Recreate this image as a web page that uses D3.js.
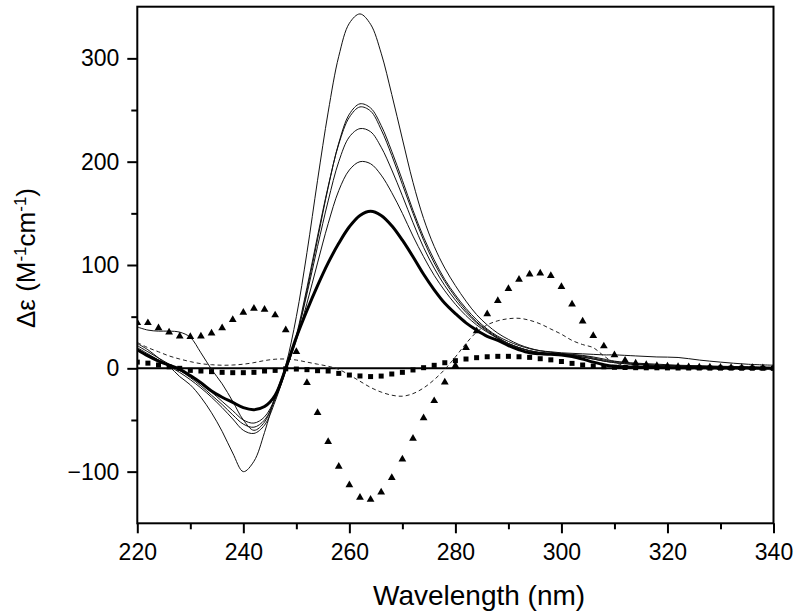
<!DOCTYPE html>
<html>
<head>
<meta charset="utf-8">
<script src="https://cdn.jsdelivr.net/npm/d3@7"></script>
<style>
  html, body { margin: 0; padding: 0; background: #fff; }
  svg { display: block; }
  text { font-family: "Liberation Sans", Arial, Helvetica, sans-serif; }
</style>
</head>
<body>
<svg id="chart" width="800" height="616"></svg>
<script>
// ---------- data ----------
const lineWl = [220,222,224,226,228,230,232,234,236,238,240,242,244,246,248,250,252,254,256,258,260,262,264,266,268,270,272,274,276,278,280,282,284,286,288,290,292,294,296,298,300,302,304,306,308,310,314,318,322,326,330,335,340];

const thick = [18,12,7,3,-1,-7,-14,-22,-28,-33,-38,-40,-37,-26,0,30,56,80,102,121,137,148,152,148,138,124,108,91,76,63,53,44,37,31,27,22,18,15,14,13.5,13,11.5,9,6,3.5,2,1,0.7,0.5,0.5,0.3,0.2,0];

const thinA = [24,18,10,2,-8,-16,-28,-43,-61,-82,-100,-90,-62,-27,3,50,112,182,248,302,334,343,333,305,265,222,180,145,118,97,80,65,52,42,34,28,23,19.5,17,15.5,14.5,13.5,12.5,11,9,7,4.5,3,2.5,2,1.5,1,0.5];

const thinB = [40,37,36,36,35,30,15,-1,-15,-32,-50,-60,-52,-28,-1,30,75,125,175,218,246,256,252,235,210,182,153,127,105,86,71,58,47,38,31,26,22,19,17,16,15,14.5,14,13.5,13,13,12,11,10.5,8,6,4,3];

const thinC = [22,16,10,4,-2,-9,-17,-26,-35,-45,-54,-57,-50,-30,-2,32,78,128,176,217,243,253,249,231,206,178,150,124,102,84,69,56,45,37,30,24,20,17,15,14,13.5,12.5,11,9,7,5.5,3.5,2.5,2,1.5,1,0.7,0.5];

const thinD = [20,14,8,2,-4,-11,-19,-28,-38,-49,-60,-63,-55,-32,-2,30,72,118,162,200,224,232,229,214,192,167,141,117,97,80,66,54,44,36,29,24,20,17,15,14,13.5,12.5,11,9,7,5.5,4,3,2.5,2,1.5,1,0.5];

const thinE = [18,13,8,3,-2,-8,-15,-23,-32,-41,-50,-53,-47,-29,-2,27,63,102,140,172,192,200,198,187,170,150,128,108,90,75,62,51,42,35,29,24,20,17,15.5,14.5,14,13,12,10,8,6.5,5,4,3,2.5,2,1.5,1];

const dashed = [25,20,16,12,9,6.5,4.5,3.5,3,3.2,4,5.5,7.5,8.8,9,8,6,4,2,-1,-6.5,-12.5,-18.5,-23,-26,-27,-24.5,-19,-11,-1,11,24,35,42,46,48,48.4,46.5,43,38,33,27,23,20,12,5.5,1.5,1,0.7,0.5,0.4,0.3,0.2];

const markerWl = [220,222,224,226,228,230,232,234,236,238,240,242,244,246,248,250,252,254,256,258,260,262,264,266,268,270,272,274,276,278,280,282,284,286,288,290,292,294,296,298,300,302,304,306,308,310,312,314,316,318,320,322,324,326,328,330,332,334,336,338,340];

const triangles = [44,44,39,35,31,30.5,31,34,39,47,54,58,57,51.5,37,16,-14,-43,-71,-95,-113,-125,-127,-120,-106,-88,-68,-48,-31.5,-13.5,2.5,20,36,52.5,65.5,77,86,91,92,89.5,79,62,45.5,31.5,21.5,13,7.7,5,3.5,2.5,2,1.5,1.2,1,1,0.8,0.6,0.5,0.5,0.4,0.3];

const squares = [6,5,3.2,1.5,0,-2,-2.6,-3.2,-3.9,-4.2,-4.2,-3.9,-2.6,-2,-0.5,-0.7,-1.3,-2.3,-2.6,-4.9,-6.5,-7.4,-8,-7.5,-5.5,-3.9,-1.6,0.6,2.9,5.4,7.4,9,10.3,11.2,11.6,11.6,11.2,10.6,9.3,8.2,6.6,4.8,3.2,2.2,1.5,1,0.8,0.6,0.5,0.5,0.4,0.3,0.3,0.3,0.2,0.2,0.2,0.1,0.1,0.1,0];

const xMajor = [220,240,260,280,300,320,340];
const xMinor = [230,250,270,290,310,330];
const yMajor = [-100,0,100,200,300];
const yMinor = [-50,50,150,250];

// ---------- layout ----------
const svg = d3.select("#chart");
const L = 137.3, R = 773.5, T = 6.7, B = 523.3;
const x = d3.scaleLinear().domain([220,340]).range([L, R]);
const y = d3.scaleLinear().domain([-150,350]).range([B, T]);

// clip
svg.append("clipPath").attr("id","clip").append("rect")
  .attr("x", L).attr("y", T).attr("width", R-L).attr("height", B-T);
const plot = svg.append("g").attr("clip-path","url(#clip)");

// zero line
plot.append("line")
  .attr("x1", x(220)).attr("x2", x(340)).attr("y1", y(0)).attr("y2", y(0))
  .attr("stroke","#000").attr("stroke-width",2);

const line = (vals) => d3.line()
  .x((d,i) => x(lineWl[i])).y(d => y(d))
  .curve(d3.curveCatmullRom.alpha(0.5))(vals);

// thin lines
[thinA, thinB, thinC, thinD, thinE].forEach(s => {
  plot.append("path").attr("d", line(s))
    .attr("fill","none").attr("stroke","#111").attr("stroke-width",1);
});
// dashed
plot.append("path").attr("d", line(dashed))
  .attr("fill","none").attr("stroke","#222").attr("stroke-width",1)
  .attr("stroke-dasharray","4,3");
// thick
plot.append("path").attr("d", line(thick))
  .attr("fill","none").attr("stroke","#000").attr("stroke-width",3);

// squares
plot.selectAll(".sq").data(squares).enter().append("rect")
  .attr("x", (d,i) => x(markerWl[i]) - 2.5)
  .attr("y", d => y(d) - 2.5)
  .attr("width",5).attr("height",5).attr("fill","#000");

// triangles
const tri = d3.symbol().type(d3.symbolTriangle).size(26);
plot.selectAll(".tri").data(triangles).enter().append("path")
  .attr("d", tri)
  .attr("transform", (d,i) => `translate(${x(markerWl[i])},${y(d)})`)
  .attr("fill","#000");

// axes
const fs = 23;
const gx = svg.append("g").attr("transform", `translate(0,${B})`)
  .call(d3.axisBottom(x).tickValues(xMajor).tickSize(10).tickPadding(10).tickFormat(d3.format("d")));
const gxm = svg.append("g").attr("transform", `translate(0,${B})`)
  .call(d3.axisBottom(x).tickValues(xMinor).tickSize(6).tickFormat(""));
const gy = svg.append("g").attr("transform", `translate(${L},0)`)
  .call(d3.axisLeft(y).tickValues(yMajor).tickSize(10).tickPadding(8).tickFormat(d3.format("d")));
const gym = svg.append("g").attr("transform", `translate(${L},0)`)
  .call(d3.axisLeft(y).tickValues(yMinor).tickSize(6).tickFormat(""));
[gx,gxm,gy,gym].forEach(g => {
  g.select(".domain").remove();
  g.selectAll("line").attr("stroke","#000").attr("stroke-width",2);
  g.selectAll("text").attr("fill","#000").style("font-size", fs+"px")
    .style("font-family",'"Liberation Sans", Arial, sans-serif');
});

// frame
svg.append("rect").attr("x",L).attr("y",T).attr("width",R-L).attr("height",B-T)
  .attr("fill","none").attr("stroke","#000").attr("stroke-width",2);

// titles
svg.append("text").attr("x", 373).attr("y", 605)
  .style("font-size","28px").attr("fill","#000").text("Wavelength (nm)");

const yt = svg.append("text")
  .attr("transform","translate(35,258) rotate(-90)")
  .attr("text-anchor","middle").style("font-size","26px").attr("fill","#000");
yt.append("tspan").text("\u0394\u03b5 (M");
yt.append("tspan").attr("baseline-shift","super").style("font-size","17px").text("-1");
yt.append("tspan").text("cm");
yt.append("tspan").attr("baseline-shift","super").style("font-size","17px").text("-1");
yt.append("tspan").text(")");
</script>
</body>
</html>
